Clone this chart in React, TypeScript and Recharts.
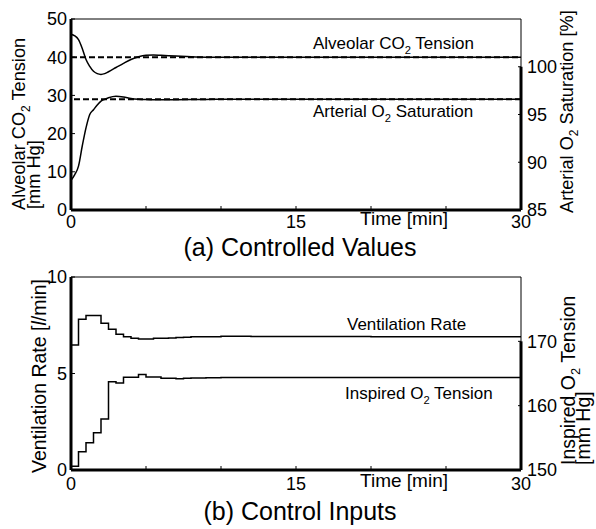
import { LineChart, Line, XAxis, YAxis, ReferenceLine } from "recharts";

const FONT = "'Liberation Sans', Arial, sans-serif";

// (a) controlled values
const timeA = [0, 0.25, 0.5, 0.75, 1, 1.25, 1.5, 1.75, 2, 2.25, 2.5, 3, 3.5, 4, 4.5, 5, 5.5, 6, 7, 8, 9, 10, 12, 15, 20, 25, 30];
const co2Tension = [46, 45.6, 44.6, 42.3, 39.4, 37.6, 36.3, 35.7, 35.5, 35.7, 36.2, 37.3, 38.4, 39.4, 40.1, 40.5, 40.6, 40.5, 40.3, 40.1, 40.0, 40, 40, 40, 40, 40, 40];
const o2Saturation = [88.1, 88.7, 89.6, 91.7, 93.6, 95.0, 95.5, 96.0, 96.4, 96.6, 96.76, 96.92, 96.84, 96.68, 96.6, 96.56, 96.54, 96.54, 96.55, 96.56, 96.57, 96.6, 96.6, 96.6, 96.6, 96.6, 96.6];
const co2Target = 40;
const satTarget = 96.6;

// (b) control inputs (held for 0.5 min each)
const timeB = [0, 0.5, 1, 1.5, 2, 2.5, 3, 3.5, 4, 4.5, 5, 5.5, 6, 6.5, 7, 7.5, 8, 9, 10, 11, 12, 14, 16, 20, 25, 30];
const ventRate = [6.48, 7.81, 8.0, 8.0, 7.6, 7.29, 7.03, 6.91, 6.82, 6.79, 6.79, 6.82, 6.83, 6.84, 6.86, 6.88, 6.9, 6.91, 6.93, 6.93, 6.92, 6.92, 6.92, 6.91, 6.91, 6.91];
const inspiredO2 = [150.6, 152.85, 154.25, 155.8, 157.93, 163.73, 163.53, 164.41, 164.41, 164.83, 164.45, 164.45, 164.26, 164.26, 164.2, 164.25, 164.3, 164.35, 164.38, 164.38, 164.36, 164.36, 164.36, 164.36, 164.36, 164.36];

const timeTicks = [0, 5, 10, 15, 20, 25, 30];
const co2Ticks = [0, 10, 20, 30, 40, 50];
const satTicks = [85, 90, 95, 100];
const ventTicks = [0, 5, 10];
const pio2Ticks = [150, 160, 170];

const dataA = timeA.map((t, i) => ({ t, co2: co2Tension[i], sat: o2Saturation[i] }));
const dataB = timeB.map((t, i) => ({ t, vent: ventRate[i], pio2: inspiredO2[i] }));

const tickStyle = { fill: "#000", fontSize: 18, fontFamily: FONT };
const fmtTime = (v: number) => (v % 15 === 0 ? String(v) : "");

// text with a subscript "2" after `head`, then `tail`
function SubText({ size, head, tail, ...rest }: any) {
  const shift = Math.round(size * 0.28);
  return (
    <text fontFamily={FONT} fill="#000" fontSize={size} {...rest}>
      {head}
      <tspan fontSize={size * 0.66} dy={shift}>2</tspan>
      <tspan dy={-shift}>{tail}</tspan>
    </text>
  );
}

function Labels() {
  const t = { fontFamily: FONT, fill: "#000" };
  return (
    <svg width={596} height={529} style={{ position: "absolute", left: 0, top: 0, pointerEvents: "none" }}>
      {/* (a) */}
      <SubText size={18.2} head="Alveolar CO" tail=" Tension" transform="translate(25,210) rotate(-90)" />
      <text {...t} fontSize={18.2} transform="translate(39.5,209) rotate(-90)">[mm Hg]</text>
      <SubText size={18.2} head="Arterial O" tail=" Saturation [%]" transform="translate(573,213) rotate(-90)" />
      <text {...t} fontSize={19} x={404} y={225} textAnchor="middle">Time [min]</text>
      <text {...t} fontSize={25} x={300} y={256} textAnchor="middle">(a) Controlled Values</text>
      <SubText size={17} head="Alveolar CO" tail=" Tension" x={313} y={49} />
      <SubText size={17} head="Arterial O" tail=" Saturation" x={313} y={117} />

      {/* (b) */}
      <text {...t} fontSize={19.5} transform="translate(46,473) rotate(-90)">
        Ventilation Rate [<tspan fontStyle="italic">l</tspan>/min]
      </text>
      <SubText size={19.5} head="Inspired O" tail=" Tension" transform="translate(575,465) rotate(-90)" />
      <text {...t} fontSize={19.5} transform="translate(590,465) rotate(-90)">[mm Hg]</text>
      <text {...t} fontSize={19} x={404} y={487} textAnchor="middle">Time [min]</text>
      <text {...t} fontSize={25} x={300} y={520} textAnchor="middle">(b) Control Inputs</text>
      <text {...t} fontSize={17} x={347} y={330}>Ventilation Rate</text>
      <SubText size={17} head="Inspired O" tail=" Tension" x={345} y={399} />
    </svg>
  );
}

function ControlledValues() {
  return (
    <LineChart width={596} height={260} data={dataA} margin={{ top: 19, right: 35, bottom: 20, left: 31 }}>
      <XAxis
        type="number"
        dataKey="t"
        domain={[0, 30]}
        ticks={timeTicks}
        interval={0}
        tickFormatter={fmtTime}
        height={30}
        tickSize={-4}
        tickMargin={9}
        axisLine={{ stroke: "#000", strokeWidth: 3 }}
        tickLine={{ stroke: "#000" }}
        tick={tickStyle}
      />
      <YAxis
        yAxisId="left"
        domain={[0, 50]}
        ticks={co2Ticks}
        interval={0}
        width={40}
        tickSize={-4}
        tickMargin={8}
        axisLine={{ stroke: "#000", strokeWidth: 3 }}
        tickLine={{ stroke: "#000" }}
        tick={tickStyle}
      />
      <YAxis
        yAxisId="right"
        orientation="right"
        domain={[85, 105]}
        ticks={satTicks}
        interval={0}
        width={40}
        tickSize={-3}
        tickMargin={9}
        axisLine={false}
        tickLine={{ stroke: "#000" }}
        tick={tickStyle}
      />
      <ReferenceLine yAxisId="left" y={50} stroke="#000" strokeWidth={1} />
      <ReferenceLine yAxisId="left" x={30} stroke="#000" strokeWidth={1} />
      <ReferenceLine yAxisId="right" segment={[{ x: 30, y: 85 }, { x: 30, y: 100 }]} stroke="#000" strokeWidth={3} />
      <ReferenceLine yAxisId="left" y={co2Target} stroke="#000" strokeWidth={2} strokeDasharray="6 3" />
      <ReferenceLine yAxisId="right" y={satTarget} stroke="#000" strokeWidth={2} strokeDasharray="6 3" />
      <Line yAxisId="left" dataKey="co2" type="monotone" stroke="#000" strokeWidth={1.5} dot={false} isAnimationActive={false} />
      <Line yAxisId="right" dataKey="sat" type="monotone" stroke="#000" strokeWidth={1.5} dot={false} isAnimationActive={false} />
    </LineChart>
  );
}

function ControlInputs() {
  return (
    <LineChart width={596} height={269} data={dataB} margin={{ top: 17, right: 35, bottom: 29, left: 31 }}>
      <XAxis
        type="number"
        dataKey="t"
        domain={[0, 30]}
        ticks={timeTicks}
        interval={0}
        tickFormatter={fmtTime}
        height={30}
        tickSize={-4}
        tickMargin={11}
        axisLine={{ stroke: "#000", strokeWidth: 3 }}
        tickLine={{ stroke: "#000" }}
        tick={tickStyle}
      />
      <YAxis
        yAxisId="left"
        domain={[0, 10]}
        ticks={ventTicks}
        interval={0}
        width={40}
        tickSize={-4}
        tickMargin={8}
        axisLine={{ stroke: "#000", strokeWidth: 3 }}
        tickLine={{ stroke: "#000" }}
        tick={tickStyle}
      />
      <YAxis
        yAxisId="right"
        orientation="right"
        domain={[150, 180]}
        ticks={pio2Ticks}
        interval={0}
        width={40}
        tickSize={-3}
        tickMargin={9}
        axisLine={false}
        tickLine={{ stroke: "#000" }}
        tick={tickStyle}
      />
      <ReferenceLine yAxisId="left" y={10} stroke="#000" strokeWidth={1} />
      <ReferenceLine yAxisId="left" x={30} stroke="#000" strokeWidth={1} />
      <ReferenceLine yAxisId="right" segment={[{ x: 30, y: 150 }, { x: 30, y: 170 }]} stroke="#000" strokeWidth={3} />
      <Line yAxisId="left" dataKey="vent" type="stepAfter" stroke="#000" strokeWidth={1.5} dot={false} isAnimationActive={false} />
      <Line yAxisId="right" dataKey="pio2" type="stepAfter" stroke="#000" strokeWidth={1.5} dot={false} isAnimationActive={false} />
    </LineChart>
  );
}

export default function App() {
  return (
    <div style={{ position: "absolute", left: 0, top: 0, width: 596, height: 529, background: "#fff" }}>
      <div style={{ position: "absolute", left: 0, top: 0 }}>
        <ControlledValues />
      </div>
      <div style={{ position: "absolute", left: 0, top: 260 }}>
        <ControlInputs />
      </div>
      <Labels />
    </div>
  );
}
